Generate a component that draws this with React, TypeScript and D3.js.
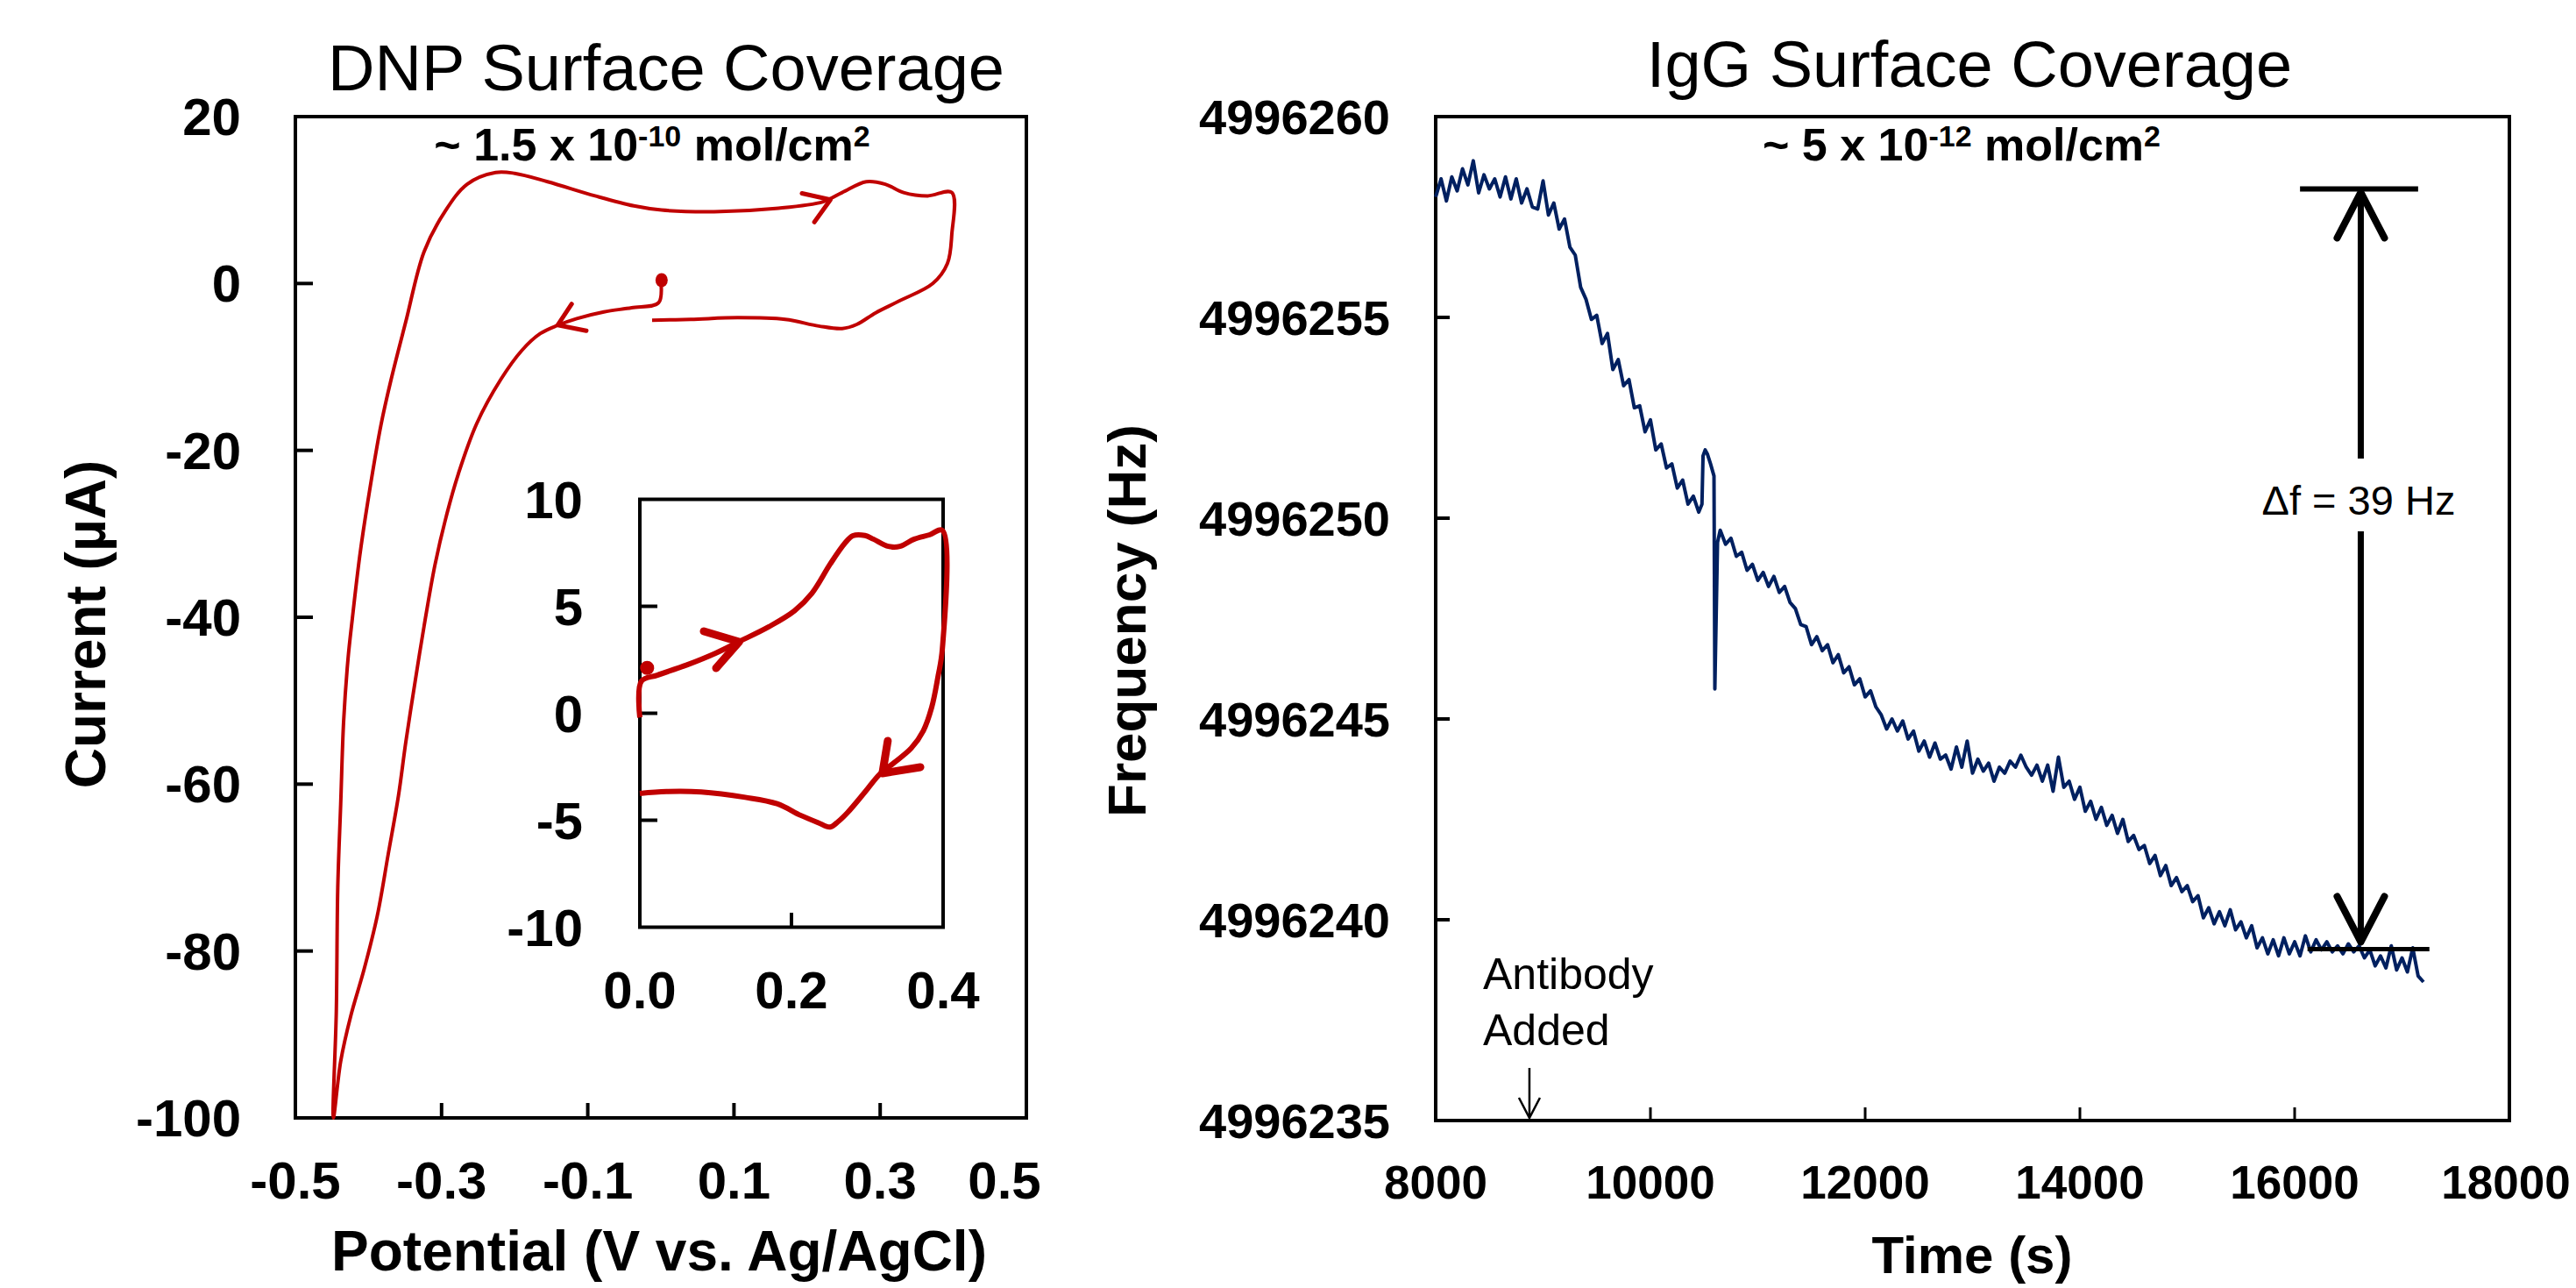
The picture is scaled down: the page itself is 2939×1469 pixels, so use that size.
import React from "react";
import * as d3 from "d3";

const FONT = "'Liberation Sans', Arial, Helvetica, sans-serif";
const RED = "#C00000";
const NAVY = "#002060";

// ---- DNP cyclic voltammogram (V vs Ag/AgCl, µA) ----
const cvScan: [number, number][] = [
  [0.0, 0.3], [-0.003, -2.3], [-0.04, -2.9], [-0.078, -3.4], [-0.115, -4.2], [-0.141, -5.0],
  [-0.165, -6.0], [-0.19, -8.0], [-0.219, -11.5], [-0.252, -16.8], [-0.277, -22.8], [-0.293, -27.7],
  [-0.309, -33.7], [-0.324, -41.1], [-0.336, -47.6], [-0.349, -55.0], [-0.359, -61.4], [-0.373, -68.4],
  [-0.388, -75.8], [-0.406, -82.2], [-0.424, -87.7], [-0.438, -93.2], [-0.448, -100],
  [-0.444, -87.2], [-0.442, -72.4], [-0.438, -62.4], [-0.434, -52.5], [-0.428, -45.0], [-0.422, -40.1],
  [-0.412, -32.7], [-0.401, -26.2], [-0.383, -17.0], [-0.369, -11.5], [-0.349, -4.6],
  [-0.324, 3.8], [-0.297, 8.4], [-0.265, 11.9], [-0.226, 13.3], [-0.2, 13.2], [-0.155, 12.2],
  [-0.09, 10.5], [-0.037, 9.3], [0.001, 8.8], [0.073, 8.6], [0.157, 9.0], [0.222, 9.8], [0.248, 10.9],
  [0.281, 12.2], [0.307, 11.9], [0.332, 10.9], [0.365, 10.5], [0.398, 10.9], [0.398, 5.9], [0.392, 2.4],
  [0.372, 0.0], [0.326, -2.1], [0.294, -3.5], [0.268, -4.9], [0.248, -5.4], [0.216, -5.1], [0.17, -4.3],
  [0.105, -4.1], [0.041, -4.3], [-0.012, -4.4],
];
const cvStart: [number, number] = [0.001, 0.4];
const cvArrows: [number, number][][] = [
  [[0.193, 10.8], [0.232, 10.05], [0.21, 7.36]],
  [[-0.122, -2.46], [-0.141, -4.98], [-0.102, -5.67]],
];
const cvXTicks = [-0.5, -0.3, -0.1, 0.1, 0.3, 0.5];
const cvYTicks = [20, 0, -20, -40, -60, -80, -100];

// ---- inset (0 to 0.4 V) ----
const insetScan: [number, number][] = [
  [0.0, -0.2], [0.002, 1.5], [0.023, 1.78], [0.062, 2.26], [0.1, 2.81], [0.131, 3.35], [0.17, 4.04],
  [0.204, 4.79], [0.227, 5.61], [0.251, 6.97], [0.27, 7.93], [0.281, 8.3], [0.297, 8.31], [0.308, 8.14],
  [0.328, 7.8], [0.343, 7.8], [0.362, 8.14], [0.382, 8.34], [0.399, 8.55], [0.399, 3.0], [0.393, 1.66],
  [0.385, 0.28], [0.374, -0.81], [0.358, -1.63], [0.335, -2.32], [0.316, -2.86], [0.297, -3.68],
  [0.274, -4.64], [0.262, -5.05], [0.251, -5.32], [0.235, -5.11], [0.212, -4.77], [0.181, -4.23],
  [0.139, -3.93], [0.081, -3.68], [0.035, -3.66], [0.0, -3.75],
];
const insetStart: [number, number] = [0.0096, 2.12];
const insetArrows: [number, number][][] = [
  [[0.0844, 3.83], [0.131, 3.34], [0.1006, 2.11]],
  [[0.327, -1.29], [0.32, -2.81], [0.37, -2.52]],
];
const insetXTicks = [0, 0.2, 0.4];
const insetYTicks = [10, 5, 0, -5, -10];

// ---- IgG QCM trace (s, Hz above 4996200) ----
const FREQ_BASE = 4996200;
const qcmTrace: [number, number][] = [
  [8000, 58.0], [8050, 58.45], [8100, 57.9], [8150, 58.5], [8200, 58.15], [8250, 58.7], [8300, 58.3],
  [8350, 58.9], [8400, 58.1], [8450, 58.55], [8500, 58.2], [8550, 58.45], [8600, 58.0], [8650, 58.5],
  [8700, 57.95], [8750, 58.45], [8800, 57.85], [8850, 58.2], [8900, 57.75], [8950, 57.7], [9000, 58.4],
  [9050, 57.55], [9100, 57.85], [9150, 57.2], [9200, 57.45], [9250, 56.75], [9300, 56.55], [9350, 55.75],
  [9400, 55.45], [9450, 54.95], [9500, 55.05], [9550, 54.35], [9600, 54.6], [9650, 53.7], [9700, 53.95],
  [9750, 53.3], [9800, 53.45], [9850, 52.75], [9900, 52.8], [9950, 52.15], [10000, 52.45], [10050, 51.7],
  [10100, 51.85], [10150, 51.25], [10200, 51.35], [10250, 50.75], [10300, 50.95], [10350, 50.35],
  [10400, 50.55], [10450, 50.15], [10480, 50.35], [10490, 51.55], [10510, 51.7], [10530, 51.6],
  [10560, 51.35], [10592, 51.05], [10600, 45.75], [10625, 49.4], [10650, 49.7], [10700, 49.35],
  [10750, 49.5], [10800, 49.05], [10850, 49.15], [10900, 48.7], [10950, 48.85], [11000, 48.45],
  [11050, 48.65], [11100, 48.3], [11150, 48.55], [11200, 48.15], [11250, 48.3], [11300, 47.9],
  [11350, 47.75], [11400, 47.35], [11450, 47.3], [11500, 46.85], [11550, 47.05], [11600, 46.7],
  [11650, 46.85], [11700, 46.4], [11750, 46.6], [11800, 46.15], [11850, 46.3], [11900, 45.85],
  [11950, 46.0], [12000, 45.55], [12050, 45.7], [12100, 45.3], [12150, 45.1], [12200, 44.75],
  [12250, 45.0], [12300, 44.7], [12350, 44.95], [12400, 44.5], [12450, 44.7], [12500, 44.2],
  [12550, 44.45], [12600, 44.05], [12650, 44.4], [12700, 44.0], [12750, 44.1], [12800, 43.75],
  [12850, 44.3], [12900, 43.8], [12950, 44.45], [13000, 43.65], [13050, 44.0], [13100, 43.7],
  [13150, 43.9], [13200, 43.45], [13250, 43.8], [13300, 43.65], [13350, 43.95], [13400, 43.8],
  [13450, 44.1], [13500, 43.8], [13550, 43.6], [13600, 43.85], [13650, 43.45], [13700, 43.85],
  [13750, 43.2], [13800, 44.05], [13850, 43.3], [13900, 43.45], [13950, 43.0], [14000, 43.3],
  [14050, 42.7], [14100, 42.95], [14150, 42.5], [14200, 42.8], [14250, 42.35], [14300, 42.6],
  [14350, 42.15], [14400, 42.5], [14450, 41.95], [14500, 42.1], [14550, 41.75], [14600, 41.85],
  [14650, 41.4], [14700, 41.6], [14750, 41.1], [14800, 41.35], [14850, 40.85], [14900, 41.05],
  [14950, 40.7], [15000, 40.85], [15050, 40.45], [15100, 40.6], [15150, 40.05], [15200, 40.3],
  [15250, 39.9], [15300, 40.2], [15350, 39.85], [15400, 40.25], [15450, 39.75], [15500, 39.95],
  [15550, 39.55], [15600, 39.85], [15650, 39.3], [15700, 39.55], [15750, 39.15], [15800, 39.5],
  [15850, 39.1], [15900, 39.55], [15950, 39.15], [16000, 39.45], [16050, 39.1], [16100, 39.6],
  [16150, 39.2], [16200, 39.5], [16250, 39.25], [16300, 39.45], [16350, 39.2], [16400, 39.35],
  [16450, 39.15], [16500, 39.4], [16550, 39.2], [16600, 39.35], [16650, 39.05], [16700, 39.25],
  [16750, 38.85], [16800, 39.1], [16850, 38.8], [16900, 39.35], [16950, 38.75], [17000, 39.05],
  [17050, 38.7], [17100, 39.3], [17150, 38.6], [17200, 38.45],
];
const qXTicks = [8000, 10000, 12000, 14000, 16000, 18000];
const qYTicks = [60, 55, 50, 45, 40, 35];

// Δf marker and antibody injection
const deltaTime = 16616;
const deltaTop = 58.2;
const deltaBottom = 39.27;
const topBarSpan = [16050, 17150];
const bottomBarSpan = [16120, 17255];
const antibodyTime = 8873;

export default function App() {
  const cvX = d3.scaleLinear().domain([-0.5, 0.5]).range([337, 1171]);
  const cvY = d3.scaleLinear().domain([-100, 20]).range([1275, 133]);
  const inX = d3.scaleLinear().domain([0, 0.4]).range([730, 1076]);
  const inY = d3.scaleLinear().domain([-10, 10]).range([1057.5, 569.5]);
  const qX = d3.scaleLinear().domain([8000, 18000]).range([1638, 2863]);
  const qY = d3.scaleLinear().domain([35, 60]).range([1278, 133]);

  const cvLine = d3
    .line<[number, number]>()
    .x((d) => cvX(d[0]))
    .y((d) => cvY(d[1]))
    .curve(d3.curveCatmullRom.alpha(0.5));
  const cvArrowLine = d3.line<[number, number]>().x((d) => cvX(d[0])).y((d) => cvY(d[1]));
  const inLine = d3
    .line<[number, number]>()
    .x((d) => inX(d[0]))
    .y((d) => inY(d[1]))
    .curve(d3.curveCatmullRom.alpha(0.5));
  const inArrowLine = d3.line<[number, number]>().x((d) => inX(d[0])).y((d) => inY(d[1]));
  const qLine = d3.line<[number, number]>().x((d) => qX(d[0])).y((d) => qY(d[1]));

  const fmt1 = (t: number) => t.toFixed(1);
  const dx = qX(deltaTime);
  const dTop = qY(deltaTop);
  const dBot = qY(deltaBottom);
  const textY = 587;
  const abX = qX(antibodyTime);

  return (
    <svg
      width={2939}
      height={1469}
      style={{ position: "absolute", left: 0, top: 0, background: "#fff" }}
      fontFamily={FONT}
    >
      <rect x={0} y={0} width={2939} height={1469} fill="#fff" />

      {/* ===== Left: DNP CV ===== */}
      <text x={760} y={103} fontSize={74} textAnchor="middle">DNP Surface Coverage</text>
      <rect x={337} y={133} width={834} height={1142} fill="none" stroke="#000" strokeWidth={4} />
      {cvYTicks.slice(1, -1).map((t) => (
        <line key={t} x1={337} x2={357} y1={cvY(t)} y2={cvY(t)} stroke="#000" strokeWidth={4} />
      ))}
      {cvXTicks.slice(1, -1).map((t) => (
        <line key={t} x1={cvX(t)} x2={cvX(t)} y1={1275} y2={1258} stroke="#000" strokeWidth={4} />
      ))}
      {cvYTicks.map((t) => (
        <text key={t} x={275} y={cvY(t) + 21} fontSize={60} fontWeight="bold" textAnchor="end">{t}</text>
      ))}
      {cvXTicks.map((t, i) => (
        <text key={t} x={cvX(t) + (i === cvXTicks.length - 1 ? -25 : 0)} y={1367} fontSize={60}
          fontWeight="bold" textAnchor="middle">{fmt1(t)}</text>
      ))}
      <text x={752} y={1449} fontSize={64} fontWeight="bold" textAnchor="middle">Potential (V vs. Ag/AgCl)</text>
      <text transform="translate(120,712) rotate(-90)" fontSize={64} fontWeight="bold" textAnchor="middle">Current (µA)</text>
      <text x={744} y={183} fontSize={52} fontWeight="bold" textAnchor="middle">
        ~ 1.5 x 10<tspan dy={-16} fontSize={34}>-10</tspan><tspan dy={16}> mol/cm</tspan>
        <tspan dy={-16} fontSize={34}>2</tspan>
      </text>

      <path d={cvLine(cvScan) ?? ""} fill="none" stroke={RED} strokeWidth={4} strokeLinejoin="round" />
      {cvArrows.map((a, i) => (
        <path key={i} d={cvArrowLine(a) ?? ""} fill="none" stroke={RED} strokeWidth={5}
          strokeLinecap="round" strokeLinejoin="round" />
      ))}
      <ellipse cx={cvX(cvStart[0])} cy={cvY(cvStart[1])} rx={7} ry={8} fill={RED} />

      {/* inset */}
      <rect x={730} y={569.5} width={346} height={488} fill="#fff" stroke="#000" strokeWidth={4} />
      {insetYTicks.slice(1, -1).map((t) => (
        <line key={t} x1={730} x2={750} y1={inY(t)} y2={inY(t)} stroke="#000" strokeWidth={4} />
      ))}
      {insetXTicks.slice(1, -1).map((t) => (
        <line key={t} x1={inX(t)} x2={inX(t)} y1={1057.5} y2={1041} stroke="#000" strokeWidth={4} />
      ))}
      {insetYTicks.map((t) => (
        <text key={t} x={665} y={inY(t) + 21} fontSize={60} fontWeight="bold" textAnchor="end">{t}</text>
      ))}
      {insetXTicks.map((t) => (
        <text key={t} x={inX(t)} y={1150} fontSize={60} fontWeight="bold" textAnchor="middle">{fmt1(t)}</text>
      ))}
      <path d={inLine(insetScan) ?? ""} fill="none" stroke={RED} strokeWidth={6} strokeLinejoin="round" />
      {insetArrows.map((a, i) => (
        <path key={i} d={inArrowLine(a) ?? ""} fill="none" stroke={RED} strokeWidth={9}
          strokeLinecap="round" strokeLinejoin="round" />
      ))}
      <circle cx={inX(insetStart[0])} cy={inY(insetStart[1])} r={8} fill={RED} />

      {/* ===== Right: IgG QCM ===== */}
      <text x={2247} y={99} fontSize={74} textAnchor="middle">IgG Surface Coverage</text>
      <rect x={1638} y={133} width={1225} height={1145} fill="none" stroke="#000" strokeWidth={4} />
      {qYTicks.slice(1, -1).map((t) => (
        <line key={t} x1={1638} x2={1654} y1={qY(t)} y2={qY(t)} stroke="#000" strokeWidth={4} />
      ))}
      {qXTicks.slice(1, -1).map((t) => (
        <line key={t} x1={qX(t)} x2={qX(t)} y1={1278} y2={1263} stroke="#000" strokeWidth={3} />
      ))}
      {qYTicks.map((t) => (
        <text key={t} x={1586} y={qY(t) + 20} fontSize={56} fontWeight="bold" textAnchor="end">{t + FREQ_BASE}</text>
      ))}
      {qXTicks.map((t, i) => (
        <text key={t} x={qX(t) + (i === qXTicks.length - 1 ? -4 : 0)} y={1367} fontSize={53}
          fontWeight="bold" textAnchor="middle">{t}</text>
      ))}
      <text x={2250} y={1452} fontSize={60} fontWeight="bold" textAnchor="middle">Time (s)</text>
      <text transform="translate(1307,708) rotate(-90)" fontSize={62} fontWeight="bold" textAnchor="middle">Frequency (Hz)</text>
      <text x={2238} y={183} fontSize={52} fontWeight="bold" textAnchor="middle">
        ~ 5 x 10<tspan dy={-16} fontSize={34}>-12</tspan><tspan dy={16}> mol/cm</tspan>
        <tspan dy={-16} fontSize={34}>2</tspan>
      </text>

      <path d={qLine(qcmTrace) ?? ""} fill="none" stroke={NAVY} strokeWidth={4} strokeLinejoin="round" />

      {/* Δf marker */}
      <line x1={qX(topBarSpan[0])} x2={qX(topBarSpan[1])} y1={dTop} y2={dTop} stroke="#000" strokeWidth={6} />
      <line x1={qX(bottomBarSpan[0])} x2={qX(bottomBarSpan[1])} y1={dBot} y2={dBot} stroke="#000" strokeWidth={5} />
      <line x1={dx} x2={dx} y1={dTop + 4} y2={textY - 64} stroke="#000" strokeWidth={7} />
      <line x1={dx} x2={dx} y1={textY + 19} y2={dBot - 6} stroke="#000" strokeWidth={7} />
      <path d={`M${dx - 27},${dTop + 56}L${dx},${dTop + 4}L${dx + 27},${dTop + 56}`} fill="none" stroke="#000"
        strokeWidth={8} strokeLinecap="round" strokeLinejoin="round" />
      <path d={`M${dx - 27},${dBot - 60}L${dx},${dBot - 8}L${dx + 27},${dBot - 60}`} fill="none" stroke="#000"
        strokeWidth={8} strokeLinecap="round" strokeLinejoin="round" />
      <text x={2691} y={textY} fontSize={47} textAnchor="middle">Δf = 39 Hz</text>

      {/* antibody added */}
      <text x={1692} y={1128} fontSize={50}>Antibody</text>
      <text x={1692} y={1192} fontSize={50}>Added</text>
      <line x1={abX} x2={abX} y1={1218} y2={1274} stroke="#000" strokeWidth={2.5} />
      <path d={`M${abX - 12},${1252}L${abX},${1275}L${abX + 12},${1252}`} fill="none" stroke="#000" strokeWidth={2.5} />
    </svg>
  );
}
